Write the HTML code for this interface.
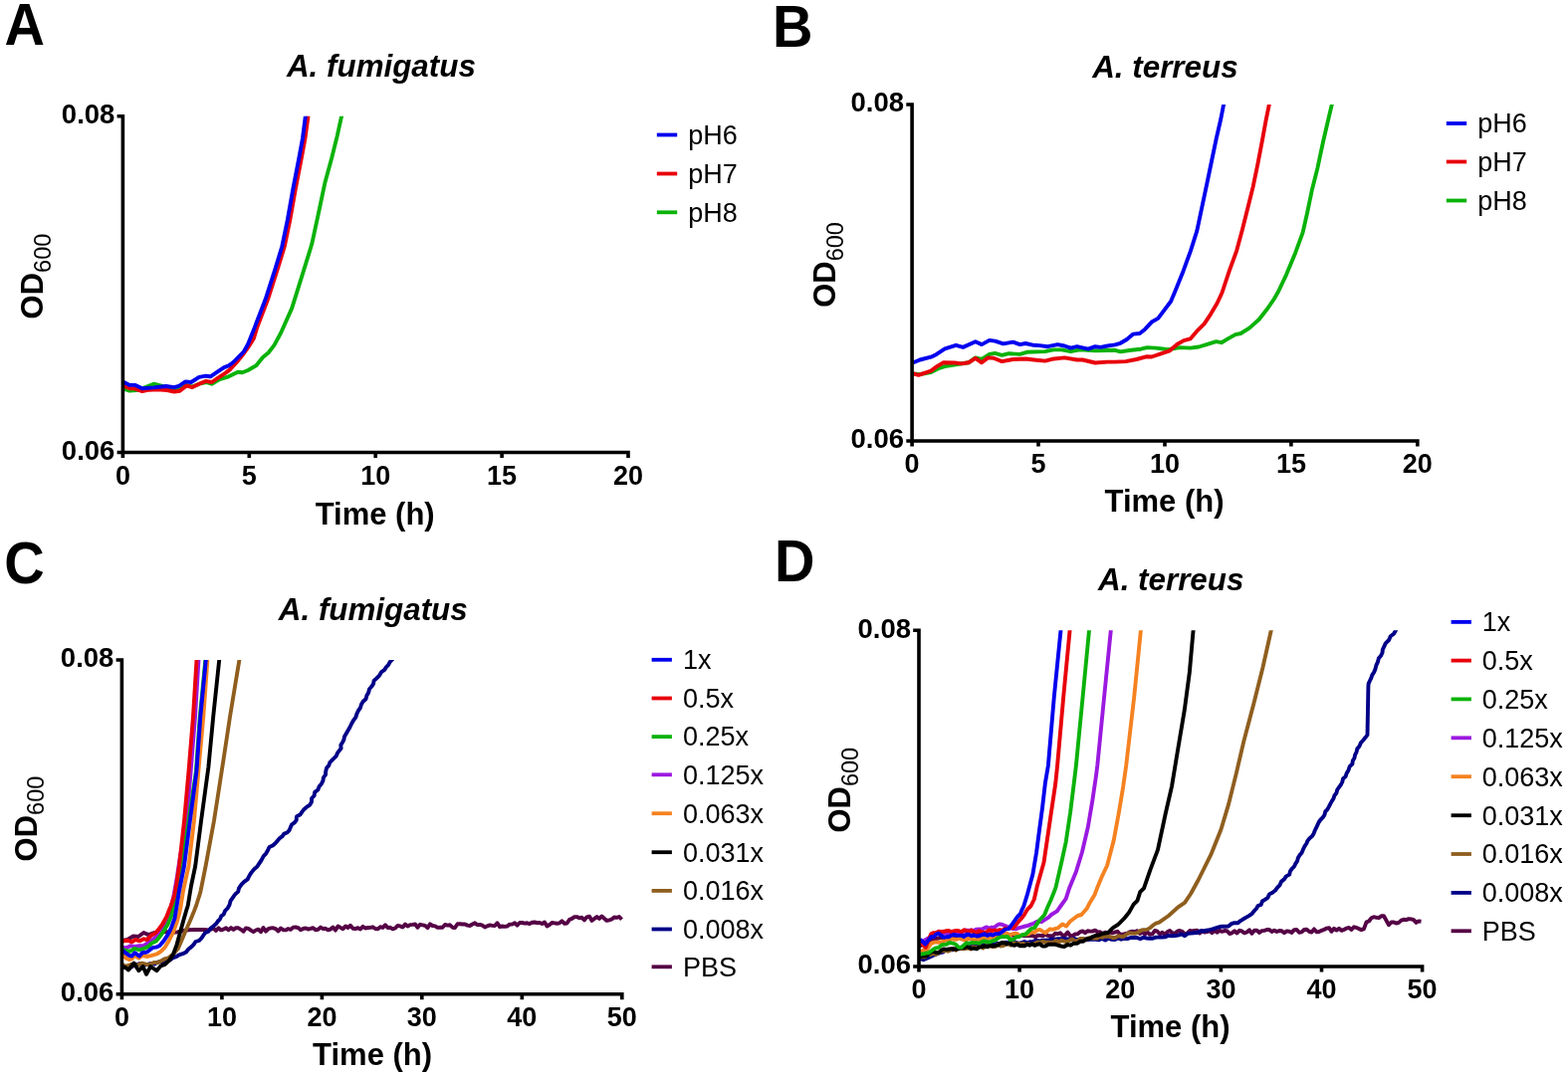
<!DOCTYPE html>
<html><head><meta charset="utf-8"><title>Growth curves</title>
<style>
html,body{margin:0;padding:0;background:#fff;}
svg{display:block;}
text{font-family:"Liberation Sans", Arial, Helvetica, sans-serif;fill:#000;}
.b{font-weight:bold;}
.bi{font-weight:bold;font-style:italic;}
.lbl{font-weight:bold;font-size:27.5px;}
.lblx{font-weight:bold;font-size:27px;}
.leg{font-size:27px;}
</style></head><body>
<svg width="1575" height="1082" viewBox="0 0 1575 1082">
<rect width="1575" height="1082" fill="#fff"/>

<text class="b" font-size="56" transform="translate(4.6,44.5) scale(1,1.058)">A</text>
<text class="bi" font-size="32" text-anchor="middle" transform="translate(382.9,76.6) scale(0.98,1)">A. fumigatus</text>
<clipPath id="clipA"><rect x="123.4" y="116.7" width="517.6" height="377.8"/></clipPath>
<g clip-path="url(#clipA)">
<polyline points="123.5,390.3 130.3,392.6 137.1,392.0 142.9,390.3 154.3,385.7 163.4,388.0 174.9,390.3 180.6,390.9 187.4,386.9 193.1,388.6 200.0,385.7 206.9,384.0 212.6,385.7 220.6,381.1 229.7,378.3 238.9,373.7 243.4,374.3 249.1,372.0 257.1,367.4 264.0,358.9 269.7,354.3 275.4,346.9 282.1,334.5 293.2,309.6 304.3,274.2 313.2,245.3 319.9,214.3 326.5,183.2 333.2,158.8 338.7,136.6 343.1,116.7 344.2,111.7" fill="none" stroke="#0ab20a" stroke-width="3.9" stroke-linejoin="round"/>
<polyline points="123.5,387.4 130.3,390.3 134.9,390.3 142.9,393.1 149.7,391.7 157.7,391.2 168.0,392.0 174.9,393.5 180.6,392.8 187.4,387.4 193.1,389.1 200.0,385.7 206.9,382.9 212.6,384.0 219.4,379.4 226.3,374.9 230.9,371.4 237.7,364.0 243.4,357.1 249.1,349.1 254.9,340.0 258.0,329.6 269.0,300.8 279.0,269.7 285.8,247.5 291.3,220.9 296.8,189.9 302.8,158.8 306.5,138.8 309.5,116.7 310.2,111.7" fill="none" stroke="#e8000b" stroke-width="3.9" stroke-linejoin="round"/>
<polyline points="123.5,383.4 130.3,386.9 136.0,386.9 142.9,390.3 154.3,389.4 166.9,388.0 174.9,389.1 179.4,388.0 186.3,383.4 192.0,384.0 200.0,378.9 206.9,377.7 211.4,378.3 218.3,373.7 225.1,369.1 229.7,367.4 234.3,364.0 241.1,357.1 244.6,353.7 249.1,345.7 255.5,329.6 266.6,300.8 276.6,269.7 283.3,247.5 288.8,220.9 294.3,189.9 300.3,158.8 304.0,138.8 306.8,116.7 307.4,111.7" fill="none" stroke="#0000ee" stroke-width="3.9" stroke-linejoin="round"/>
</g>
<path d="M123.4,116.7 V454.5 M119.4,116.7 H123.4 M119.4,454.5 H631.0 M123.4,454.5 v3.7 M250.3,454.5 v3.7 M377.2,454.5 v3.7 M504.1,454.5 v3.7 M631.0,454.5 v3.7" fill="none" stroke="#000" stroke-width="3.6" stroke-linecap="square"/>
<text class="lbl" x="115.4" y="124.0" text-anchor="end">0.08</text>
<text class="lbl" x="115.4" y="461.8" text-anchor="end">0.06</text>
<text class="lblx" x="123.4" y="486.7" text-anchor="middle">0</text>
<text class="lblx" x="250.3" y="486.7" text-anchor="middle">5</text>
<text class="lblx" x="377.2" y="486.7" text-anchor="middle">10</text>
<text class="lblx" x="504.1" y="486.7" text-anchor="middle">15</text>
<text class="lblx" x="631.0" y="486.7" text-anchor="middle">20</text>
<text class="b" x="376.7" y="526.6" font-size="31" text-anchor="middle">Time (h)</text>
<text class="b" font-size="31" transform="translate(43,320.4) rotate(-90)">OD<tspan font-weight="normal" font-size="23.5" dy="7.7">600</tspan></text>
<line x1="659.8" y1="135.5" x2="680.2" y2="135.5" stroke="#0000ee" stroke-width="3.8"/>
<text class="leg" x="691.3" y="144.8">pH6</text>
<line x1="659.8" y1="174.5" x2="680.2" y2="174.5" stroke="#e8000b" stroke-width="3.8"/>
<text class="leg" x="691.3" y="183.8">pH7</text>
<line x1="659.8" y1="213.3" x2="680.2" y2="213.3" stroke="#0ab20a" stroke-width="3.8"/>
<text class="leg" x="691.3" y="222.6">pH8</text>
<text class="b" font-size="56" transform="translate(776,46.7) scale(1,1.058)">B</text>
<text class="bi" font-size="32" text-anchor="middle" transform="translate(1170.4,78.3) scale(0.98,1)">A. terreus</text>
<clipPath id="clipB"><rect x="916.1" y="105" width="517.6999999999999" height="378"/></clipPath>
<g clip-path="url(#clipB)">
<polyline points="917.5,375.4 924.0,376.1 935.1,374.0 943.5,369.8 950.5,367.7 963.1,365.7 972.9,364.3 979.8,359.4 986.1,360.8 993.8,355.9 999.4,354.9 1006.4,356.9 1013.4,355.2 1024.5,355.9 1031.5,353.8 1049.7,353.1 1058.1,351.4 1066.4,351.4 1075.5,353.1 1084.6,351.4 1100.0,352.4 1112.5,352.0 1120.0,351.8 1125.4,353.4 1136.2,351.8 1145.9,350.7 1152.4,349.1 1161.0,349.6 1174.0,351.2 1184.8,349.1 1195.6,349.6 1204.2,348.5 1212.8,345.8 1221.5,343.1 1226.9,344.2 1233.3,340.4 1240.9,336.1 1246.3,335.0 1254.9,329.6 1264.6,321.0 1272.2,311.3 1279.7,300.5 1284.0,293.0 1292.0,276.1 1301.2,253.9 1308.6,233.6 1313.2,213.3 1317.8,191.1 1323.4,168.9 1328.9,143.0 1333.6,122.7 1337.8,105.0 1339.0,100.0" fill="none" stroke="#0ab20a" stroke-width="3.9" stroke-linejoin="round"/>
<polyline points="917.5,375.4 922.6,376.8 935.1,372.6 940.7,368.4 947.7,364.3 958.9,364.5 965.9,365.4 972.9,364.3 979.8,359.8 986.1,364.3 992.4,359.4 998.0,359.8 1006.4,363.1 1017.6,361.0 1030.1,360.5 1038.5,361.5 1049.7,362.6 1056.7,360.8 1069.2,359.4 1081.8,361.5 1087.4,361.5 1100.0,364.5 1112.5,363.6 1120.0,363.6 1130.8,363.1 1141.6,361.0 1151.3,358.3 1156.7,358.5 1165.3,355.6 1175.0,352.3 1182.6,345.8 1189.1,342.1 1195.6,340.4 1202.0,332.9 1209.6,325.3 1216.1,315.6 1222.5,304.8 1227.5,294.0 1234.7,272.4 1242.1,252.1 1247.6,231.8 1253.2,209.6 1258.7,187.4 1263.3,165.2 1267.9,141.2 1271.6,120.9 1274.8,105.0 1275.8,100.0" fill="none" stroke="#e8000b" stroke-width="3.9" stroke-linejoin="round"/>
<polyline points="917.5,364.3 924.0,361.5 935.1,358.7 940.7,355.9 949.1,350.3 960.3,346.8 967.3,348.9 979.8,343.3 986.1,346.1 993.8,341.9 999.4,342.6 1007.8,345.4 1017.6,343.6 1024.5,346.1 1030.1,345.0 1038.5,346.8 1044.1,347.1 1052.5,348.2 1062.3,346.1 1069.2,347.5 1075.5,349.6 1081.8,348.2 1093.0,350.6 1100.0,348.2 1105.6,348.9 1112.5,347.5 1120.0,346.4 1125.4,344.8 1131.9,341.0 1138.3,335.6 1144.8,335.0 1150.2,330.7 1157.2,323.2 1163.2,319.9 1169.6,311.3 1176.1,302.7 1180.4,292.5 1188.5,272.4 1195.9,252.1 1202.3,231.8 1207.0,209.6 1212.5,183.7 1217.1,161.5 1221.7,139.4 1226.4,119.0 1229.1,105.0 1230.1,100.0" fill="none" stroke="#0000ee" stroke-width="3.9" stroke-linejoin="round"/>
</g>
<path d="M916.1,105 V443 M912.1,105 H916.1 M912.1,443 H1423.8 M916.1,443 v3.7 M1043.0,443 v3.7 M1170.0,443 v3.7 M1296.9,443 v3.7 M1423.8,443 v3.7" fill="none" stroke="#000" stroke-width="3.6" stroke-linecap="square"/>
<text class="lbl" x="908.1" y="112.3" text-anchor="end">0.08</text>
<text class="lbl" x="908.1" y="450.3" text-anchor="end">0.06</text>
<text class="lblx" x="916.1" y="475.2" text-anchor="middle">0</text>
<text class="lblx" x="1043.0" y="475.2" text-anchor="middle">5</text>
<text class="lblx" x="1170.0" y="475.2" text-anchor="middle">10</text>
<text class="lblx" x="1296.9" y="475.2" text-anchor="middle">15</text>
<text class="lblx" x="1423.8" y="475.2" text-anchor="middle">20</text>
<text class="b" x="1169.5" y="514.1" font-size="31" text-anchor="middle">Time (h)</text>
<text class="b" font-size="31" transform="translate(839,308.8) rotate(-90)">OD<tspan font-weight="normal" font-size="23.5" dy="7.7">600</tspan></text>
<line x1="1452.8" y1="124" x2="1473.2" y2="124" stroke="#0000ee" stroke-width="3.8"/>
<text class="leg" x="1484.2" y="133.3">pH6</text>
<line x1="1452.8" y1="162.5" x2="1473.2" y2="162.5" stroke="#e8000b" stroke-width="3.8"/>
<text class="leg" x="1484.2" y="171.8">pH7</text>
<line x1="1452.8" y1="201.5" x2="1473.2" y2="201.5" stroke="#0ab20a" stroke-width="3.8"/>
<text class="leg" x="1484.2" y="210.8">pH8</text>
<text class="b" font-size="56" transform="translate(4.3,585.5) scale(1,1.058)">C</text>
<text class="bi" font-size="32" text-anchor="middle" transform="translate(374.75,622.7) scale(0.98,1)">A. fumigatus</text>
<clipPath id="clipC"><rect x="122.4" y="663" width="512.4" height="375.79999999999995"/></clipPath>
<g clip-path="url(#clipC)">
<polyline points="123.0,945.0 128.0,944.0 133.9,940.5 139.0,941.0 144.3,937.0 149.1,939.1 155.0,937.0 160.0,938.0 166.0,936.0 172.0,937.0 178.3,936.4 184.0,935.0 189.3,934.3 196.3,933.9 205.3,934.0 209.5,934.5 214.5,932.7 217.0,935.0 219.5,932.3 222.0,934.4 224.5,933.6 227.0,932.2 229.5,934.3 232.0,932.1 234.5,933.9 237.0,932.2 239.5,932.3 242.0,933.8 244.5,935.7 247.0,932.4 249.5,932.9 252.0,934.7 254.5,936.2 257.0,934.5 259.5,933.6 262.0,936.3 264.5,932.0 267.0,935.7 269.5,933.1 272.0,932.4 274.5,932.3 277.0,933.1 279.5,935.5 282.0,932.5 284.5,934.2 287.0,934.4 289.5,933.1 292.0,933.9 294.5,931.6 297.0,931.5 299.5,932.1 302.0,934.2 304.5,933.0 307.0,932.4 309.5,933.6 312.0,932.9 314.5,932.1 317.0,934.3 319.5,933.8 322.0,931.6 324.5,933.1 327.0,932.8 329.5,934.3 332.0,933.6 334.5,931.5 337.0,934.6 339.5,930.5 342.0,931.9 344.5,933.3 347.0,930.5 349.5,932.0 352.0,929.8 354.5,932.7 357.0,933.1 359.5,932.1 362.0,933.5 364.5,930.8 367.0,932.5 369.5,932.0 372.0,931.9 374.5,931.3 377.0,933.0 379.5,933.4 382.0,931.2 384.5,932.0 387.0,929.2 389.5,932.1 392.0,931.8 394.5,933.3 397.0,932.5 399.5,929.9 402.0,930.4 404.5,931.6 407.0,928.6 409.5,930.5 412.0,929.1 414.5,928.9 417.0,928.5 419.5,931.7 422.0,928.8 424.5,929.3 427.0,929.9 429.5,932.1 432.0,928.4 434.5,930.0 437.0,930.4 439.5,931.9 442.0,931.6 444.5,931.8 447.0,929.0 449.5,929.6 452.0,929.3 454.5,931.7 457.0,932.0 459.5,928.2 462.0,928.3 464.5,928.5 467.0,928.5 469.5,929.6 472.0,930.0 474.5,928.5 477.0,927.3 479.5,929.1 482.0,928.9 484.5,929.7 487.0,931.5 489.5,930.3 492.0,929.4 494.5,929.9 497.0,930.1 499.5,927.2 502.0,931.1 504.5,930.5 507.0,930.9 509.5,930.5 512.0,928.6 514.5,928.6 517.0,927.2 519.5,929.6 522.0,927.0 524.5,927.0 527.0,927.6 529.5,927.3 532.0,928.1 534.5,926.8 537.0,926.5 539.5,927.2 542.0,926.9 544.5,928.1 547.0,926.5 549.5,930.4 552.0,929.1 554.5,927.0 557.0,927.4 559.5,927.8 562.0,927.3 564.5,925.4 567.0,927.9 569.5,927.5 572.0,923.8 574.5,922.9 577.0,921.1 579.5,921.1 582.0,922.2 584.5,921.8 587.0,924.4 589.5,921.3 592.0,920.6 594.5,924.9 597.0,922.9 599.5,921.1 602.0,922.9 604.5,920.5 607.0,922.8 609.5,924.9 612.0,924.3 614.5,923.5 617.0,921.5 619.5,921.9 622.0,921.0 624.5,923.8" fill="none" stroke="#550045" stroke-width="3.9" stroke-linejoin="round"/>
<polyline points="123.0,972.0 126.5,971.8 130.0,972.6 134.9,969.8 140.2,968.2 143.5,969.2 147.2,969.2 150.8,968.1 155.1,968.6 157.9,966.8 160.9,966.0 164.2,966.9 167.2,965.4 170.9,964.3 174.1,962.0 177.1,961.2 179.8,959.4 183.5,958.2 187.0,956.5 189.3,953.5 192.1,951.4 194.6,948.9 196.5,946.0 199.9,945.0 202.3,942.7 204.1,940.0 206.0,937.2 209.3,935.8 211.4,932.8 214.3,930.5 217.1,928.1 218.8,925.5 221.0,923.4 222.2,920.4 224.7,918.5 226.1,915.0 228.7,912.3 230.5,909.1 231.5,905.1 233.8,901.8 236.1,898.5 239.1,895.9 240.1,892.1 242.3,888.9 245.2,885.8 248.7,883.3 250.0,880.6 251.5,878.0 253.3,875.6 255.5,873.0 258.2,870.8 260.1,867.9 262.6,864.1 264.7,860.1 267.1,857.6 268.9,854.5 270.5,851.1 273.9,849.5 276.5,847.2 278.8,844.6 280.8,842.2 283.4,840.4 285.3,837.6 288.4,836.5 290.6,834.1 291.8,831.1 293.1,828.3 295.9,826.4 297.7,823.8 298.0,820.3 301.4,818.6 303.4,815.7 305.5,812.9 308.1,810.7 311.1,808.8 312.9,805.8 313.1,802.0 315.6,799.4 316.2,795.9 319.3,793.5 320.7,790.0 322.9,787.4 324.4,784.5 324.9,781.1 327.0,778.4 327.2,774.9 328.1,771.6 330.3,769.0 331.3,766.0 333.4,763.8 335.6,761.7 337.7,759.6 338.9,756.7 340.7,754.2 342.6,751.8 342.3,748.5 344.1,745.7 345.4,743.1 346.0,739.9 347.6,737.2 349.2,734.5 350.8,731.8 352.2,729.0 353.6,726.2 355.3,723.3 357.4,720.5 358.4,717.1 359.9,714.0 361.9,711.2 362.9,707.7 364.7,704.7 367.5,702.3 368.4,698.8 370.2,695.8 371.0,692.3 373.2,689.8 375.0,687.2 375.6,683.9 378.1,681.6 381.1,678.6 383.4,674.8 386.1,673.1 387.8,670.4 390.0,668.2 391.5,665.3 393.6,663.0 398.2,658.0" fill="none" stroke="#000088" stroke-width="3.9" stroke-linejoin="round"/>
<polyline points="123.0,969.0 125.7,970.6 128.3,970.3 132.5,968.6 135.2,969.5 138.0,969.6 142.9,967.6 147.7,969.0 151.2,968.6 154.7,966.9 158.1,967.2 161.6,965.5 165.1,963.5 168.5,962.7 174.1,958.5 178.9,953.0 182.4,944.7 186.6,935.0 191.4,923.9 194.9,915.5 197.0,910.0 201.3,896.4 206.6,870.0 214.9,825.0 218.8,800.0 225.4,757.2 231.0,720.0 240.4,663.0 241.2,658.0" fill="none" stroke="#8f5e1e" stroke-width="3.9" stroke-linejoin="round"/>
<polyline points="123.0,971.0 126.0,971.9 129.0,974.5 134.6,967.6 139.4,975.2 143.6,971.0 147.0,978.7 151.2,971.0 157.4,975.2 161.6,970.3 165.8,968.9 169.9,964.8 174.1,958.5 177.6,948.8 181.0,936.4 184.5,923.9 187.3,914.2 188.7,910.0 192.0,890.0 196.2,870.0 202.0,825.0 209.4,770.5 214.2,720.0 220.2,663.0 220.7,658.0" fill="none" stroke="#000000" stroke-width="3.9" stroke-linejoin="round"/>
<polyline points="123.0,959.2 126.9,962.7 129.7,964.1 132.5,963.4 135.3,959.9 139.4,962.7 142.9,959.9 147.7,961.0 152.6,959.9 157.4,958.5 161.6,955.8 165.8,951.6 169.9,944.7 174.1,936.4 177.6,926.6 180.3,916.9 181.7,910.0 184.0,895.0 189.5,870.0 194.9,825.0 199.3,775.0 204.3,720.0 208.4,663.0 208.8,658.0" fill="none" stroke="#f58220" stroke-width="3.9" stroke-linejoin="round"/>
<polyline points="123.0,951.6 126.9,952.3 131.1,950.2 135.3,950.9 140.1,950.2 144.3,950.2 149.1,946.8 153.3,944.0 156.1,941.9 160.0,937.5 164.0,932.0 168.0,924.0 171.0,915.0 174.5,900.0 178.0,880.0 181.0,860.0 187.0,830.0 191.6,775.0 196.0,720.0 199.5,663.0 199.8,658.0" fill="none" stroke="#9b19e0" stroke-width="3.9" stroke-linejoin="round"/>
<polyline points="123.0,953.7 126.7,955.3 130.4,955.8 135.3,953.0 140.1,954.4 144.3,953.0 149.1,950.9 152.6,947.4 156.8,945.4 160.9,940.5 165.1,934.3 168.5,928.7 172.0,920.4 174.8,910.0 177.3,895.0 182.5,870.0 189.5,825.0 196.9,775.0 200.8,720.0 206.3,663.0 206.8,658.0" fill="none" stroke="#0ab20a" stroke-width="3.9" stroke-linejoin="round"/>
<polyline points="123.0,945.8 125.7,945.0 128.3,944.7 132.5,946.4 136.0,944.0 140.1,945.4 144.3,943.3 147.7,944.0 151.9,939.8 156.1,937.4 158.8,934.3 163.0,928.7 167.2,921.1 169.9,914.2 171.7,910.0 175.1,900.0 177.5,887.0 180.0,870.0 185.0,825.0 189.5,775.0 194.0,720.0 197.5,663.0 197.8,658.0" fill="none" stroke="#e8000b" stroke-width="3.9" stroke-linejoin="round"/>
<polyline points="123.0,954.7 126.9,957.9 129.7,959.8 132.5,960.6 135.3,957.2 140.1,960.6 142.9,957.2 147.7,956.5 151.2,953.7 154.0,951.9 156.8,951.6 160.2,950.2 164.4,945.4 168.5,939.1 172.0,932.2 175.5,922.5 177.6,910.0 180.0,895.0 185.0,870.0 190.8,825.0 197.4,775.0 201.3,720.0 206.8,663.0 207.3,658.0" fill="none" stroke="#0000ee" stroke-width="3.9" stroke-linejoin="round"/>
</g>
<path d="M122.4,663 V998.8 M118.4,663 H122.4 M118.4,998.8 H624.8 M122.4,998.8 v3.7 M222.9,998.8 v3.7 M323.4,998.8 v3.7 M423.8,998.8 v3.7 M524.3,998.8 v3.7 M624.8,998.8 v3.7" fill="none" stroke="#000" stroke-width="3.6" stroke-linecap="square"/>
<text class="lbl" x="114.4" y="670.3" text-anchor="end">0.08</text>
<text class="lbl" x="114.4" y="1006.1" text-anchor="end">0.06</text>
<text class="lblx" x="122.4" y="1031.0" text-anchor="middle">0</text>
<text class="lblx" x="222.9" y="1031.0" text-anchor="middle">10</text>
<text class="lblx" x="323.4" y="1031.0" text-anchor="middle">20</text>
<text class="lblx" x="423.8" y="1031.0" text-anchor="middle">30</text>
<text class="lblx" x="524.3" y="1031.0" text-anchor="middle">40</text>
<text class="lblx" x="624.8" y="1031.0" text-anchor="middle">50</text>
<text class="b" x="374.1" y="1070.1" font-size="31" text-anchor="middle">Time (h)</text>
<text class="b" font-size="31" transform="translate(36.6,865.4) rotate(-90)">OD<tspan font-weight="normal" font-size="23.5" dy="7.7">600</tspan></text>
<line x1="654.6" y1="662.8" x2="674.9" y2="662.8" stroke="#0000ee" stroke-width="3.8"/>
<text class="leg" x="686" y="672.1">1x</text>
<line x1="654.6" y1="701.5" x2="674.9" y2="701.5" stroke="#e8000b" stroke-width="3.8"/>
<text class="leg" x="686" y="710.8">0.5x</text>
<line x1="654.6" y1="740.1" x2="674.9" y2="740.1" stroke="#0ab20a" stroke-width="3.8"/>
<text class="leg" x="686" y="749.4">0.25x</text>
<line x1="654.6" y1="778.3" x2="674.9" y2="778.3" stroke="#9b19e0" stroke-width="3.8"/>
<text class="leg" x="686" y="787.6">0.125x</text>
<line x1="654.6" y1="817.2" x2="674.9" y2="817.2" stroke="#f58220" stroke-width="3.8"/>
<text class="leg" x="686" y="826.5">0.063x</text>
<line x1="654.6" y1="856.2" x2="674.9" y2="856.2" stroke="#000000" stroke-width="3.8"/>
<text class="leg" x="686" y="865.5">0.031x</text>
<line x1="654.6" y1="894.9" x2="674.9" y2="894.9" stroke="#8f5e1e" stroke-width="3.8"/>
<text class="leg" x="686" y="904.2">0.016x</text>
<line x1="654.6" y1="933.5" x2="674.9" y2="933.5" stroke="#000088" stroke-width="3.8"/>
<text class="leg" x="686" y="942.8">0.008x</text>
<line x1="654.6" y1="971.3" x2="674.9" y2="971.3" stroke="#550045" stroke-width="3.8"/>
<text class="leg" x="686" y="980.6">PBS</text>
<text class="b" font-size="56" transform="translate(778,584.4) scale(1,1.058)">D</text>
<text class="bi" font-size="32" text-anchor="middle" transform="translate(1176.2,592.6) scale(0.98,1)">A. terreus</text>
<clipPath id="clipD"><rect x="923" y="633.2" width="515.5999999999999" height="377.79999999999995"/></clipPath>
<g clip-path="url(#clipD)">
<polyline points="923.6,950.4 930.0,948.0 936.0,944.0 945.0,942.0 955.0,941.0 965.0,940.0 975.0,939.5 985.0,939.0 995.0,939.5 1005.0,939.8 1015.0,939.5 1025.0,940.0 1037.5,939.8 1040.0,941.4 1042.5,939.6 1045.0,939.9 1047.5,940.3 1050.0,938.7 1052.5,939.9 1055.0,940.2 1057.5,940.6 1060.0,937.7 1062.5,938.3 1065.0,937.3 1067.5,940.0 1070.0,939.4 1072.5,936.6 1075.0,940.2 1077.5,939.9 1080.0,938.5 1082.5,938.2 1085.0,936.2 1087.5,935.4 1090.0,937.3 1092.5,935.3 1095.0,935.6 1097.5,935.6 1100.0,934.6 1102.5,936.4 1105.0,936.3 1107.5,937.9 1110.0,936.7 1112.5,937.2 1115.0,936.6 1117.5,937.3 1120.0,936.5 1122.5,935.8 1125.0,938.7 1127.5,938.8 1130.0,938.2 1132.5,937.7 1135.0,936.1 1137.5,935.8 1140.0,936.1 1142.5,935.2 1145.0,938.0 1147.5,936.6 1150.0,938.4 1152.5,936.5 1155.0,938.8 1157.5,938.3 1160.0,934.9 1162.5,935.7 1165.0,938.5 1167.5,936.7 1170.0,938.7 1172.5,936.3 1175.0,935.0 1177.5,937.2 1180.0,937.8 1182.5,935.7 1185.0,935.0 1187.5,935.9 1190.0,938.4 1192.5,937.6 1195.0,935.0 1197.5,935.5 1200.0,934.9 1202.5,934.7 1205.0,937.6 1207.5,935.1 1210.0,936.6 1212.5,936.1 1215.0,935.1 1217.5,937.2 1220.0,934.8 1222.5,936.8 1225.0,934.7 1227.5,935.9 1230.0,935.0 1232.5,935.2 1235.0,938.0 1237.5,937.3 1240.0,935.3 1242.5,937.5 1245.0,934.8 1247.5,935.5 1250.0,937.3 1252.5,936.5 1255.0,934.3 1257.5,937.8 1260.0,934.7 1262.5,934.8 1265.0,936.9 1267.5,935.1 1270.0,934.9 1272.5,934.0 1275.0,934.0 1277.5,936.0 1280.0,934.6 1282.5,936.0 1285.0,935.0 1287.5,935.3 1290.0,937.3 1292.5,935.4 1295.0,935.8 1297.5,936.9 1300.0,934.1 1302.5,933.9 1305.0,936.8 1307.5,936.4 1310.0,934.0 1312.5,933.7 1315.0,935.8 1317.5,936.5 1320.0,933.4 1322.5,936.3 1325.0,936.0 1327.5,934.8 1330.0,933.9 1332.5,932.6 1335.0,932.2 1337.5,935.8 1340.0,932.8 1342.5,934.6 1345.0,932.7 1347.5,934.9 1350.0,933.9 1352.5,932.6 1355.0,932.0 1357.5,934.0 1360.0,931.3 1362.5,931.9 1365.0,933.1 1367.5,934.1 1370.0,933.1 1372.5,926.3 1375.0,925.5 1377.5,922.3 1380.0,921.2 1382.5,921.8 1385.0,922.1 1387.5,920.2 1390.0,920.3 1392.5,924.8 1395.0,929.3 1397.5,926.5 1400.0,926.4 1402.5,927.6 1405.0,926.9 1407.5,924.6 1410.0,923.8 1412.5,924.1 1415.0,923.1 1417.5,923.4 1420.0,924.1 1422.5,926.9 1425.0,925.4 1427.5,925.7" fill="none" stroke="#550045" stroke-width="3.9" stroke-linejoin="round"/>
<polyline points="923.6,962.8 927.5,964.3 932.9,962.0 936.6,960.3 940.4,958.7 943.5,957.4 946.9,956.7 949.8,954.2 953.3,954.3 956.8,954.4 960.1,953.3 963.1,953.3 965.9,951.5 969.0,951.7 971.9,950.9 975.0,951.1 978.0,950.7 980.9,949.3 983.9,949.3 986.9,949.0 990.1,949.7 993.0,949.3 996.0,948.0 999.0,948.9 1002.0,947.6 1005.0,948.2 1008.0,947.1 1010.9,946.7 1014.0,948.1 1017.0,946.7 1020.0,946.5 1023.1,947.7 1026.0,947.3 1029.0,946.0 1032.1,947.0 1035.0,946.1 1038.0,945.9 1040.9,944.6 1044.1,945.5 1047.0,944.6 1050.1,944.6 1053.2,944.5 1056.4,943.4 1059.5,943.6 1062.7,943.2 1065.9,943.2 1069.1,943.0 1072.2,943.4 1075.4,944.0 1078.6,942.9 1081.8,944.1 1084.9,943.5 1088.1,943.5 1091.3,944.4 1094.4,943.8 1097.6,943.5 1100.8,943.8 1103.9,944.2 1107.1,943.0 1110.3,944.6 1113.4,942.7 1116.6,943.9 1119.8,944.0 1123.0,942.4 1126.2,943.7 1129.3,942.9 1132.5,943.1 1135.7,942.0 1138.8,941.9 1142.0,942.0 1145.3,943.2 1148.4,941.7 1151.6,942.5 1154.8,942.7 1158.0,942.7 1161.1,941.6 1164.3,941.6 1167.5,941.5 1170.7,941.4 1173.7,939.8 1177.0,940.4 1180.2,940.0 1183.4,939.6 1186.7,938.4 1190.0,940.2 1192.9,937.9 1196.1,937.6 1199.3,937.3 1202.6,937.1 1205.4,935.3 1208.8,935.5 1211.8,934.7 1215.0,934.2 1218.0,933.4 1221.1,932.3 1224.2,931.3 1227.3,930.6 1230.7,930.8 1234.0,930.5 1236.7,928.2 1239.8,927.2 1243.4,927.3 1246.0,925.1 1248.9,923.3 1251.8,921.6 1254.8,919.8 1257.7,917.8 1259.9,915.0 1262.0,912.7 1263.6,910.0 1266.8,908.8 1267.8,905.5 1270.5,903.8 1273.4,901.8 1275.0,898.4 1278.2,896.7 1281.0,894.5 1283.1,891.6 1285.6,889.1 1287.1,885.6 1289.9,883.4 1291.9,880.4 1295.2,878.6 1295.9,875.4 1297.6,872.9 1299.9,870.7 1301.2,867.9 1303.0,865.2 1303.9,861.8 1305.6,859.0 1307.7,856.4 1309.0,853.3 1310.4,850.3 1312.3,847.5 1313.5,844.6 1315.4,842.2 1318.0,840.1 1319.6,837.4 1320.7,834.5 1322.1,831.7 1323.4,828.9 1324.7,826.0 1326.5,823.5 1328.8,821.2 1330.5,818.6 1331.2,815.4 1333.4,813.1 1334.9,810.4 1336.3,807.6 1337.8,804.9 1339.5,802.2 1340.4,799.2 1342.4,796.7 1343.2,793.5 1345.0,790.9 1346.9,788.3 1348.3,785.5 1349.1,782.3 1351.6,780.1 1352.6,777.0 1354.5,773.8 1355.6,770.2 1358.4,767.5 1358.8,764.3 1360.5,761.5 1361.1,758.3 1362.6,755.4 1363.3,752.3 1365.4,749.7 1366.8,746.4 1369.2,743.8 1371.4,741.1 1373.5,738.3 1374.4,690.0 1374.6,686.9 1375.9,684.0 1377.3,681.2 1378.3,678.1 1380.1,675.4 1381.4,672.4 1382.3,668.6 1383.9,665.1 1384.9,661.3 1387.1,658.7 1388.5,655.7 1388.9,652.3 1390.4,649.4 1391.7,646.3 1395.1,643.0 1396.7,639.2 1400.0,636.7 1402.0,633.2 1404.9,628.2" fill="none" stroke="#000088" stroke-width="3.9" stroke-linejoin="round"/>
<polyline points="923.6,962.0 926.5,961.1 929.3,961.5 932.1,958.5 935.0,959.0 937.5,957.8 940.0,958.9 942.5,957.4 945.0,955.4 947.5,955.3 950.0,955.0 952.5,955.7 955.0,954.2 957.5,952.8 960.0,954.7 962.5,952.4 965.0,953.0 967.5,953.2 970.0,953.0 972.5,952.4 975.0,953.5 977.5,951.3 980.0,952.0 982.5,952.0 985.0,950.5 987.5,952.5 990.0,950.1 992.5,950.8 995.0,950.5 997.5,951.1 1000.0,951.0 1002.5,948.7 1005.0,950.5 1007.5,950.1 1010.0,949.0 1012.5,948.4 1015.0,949.5 1017.5,948.0 1020.0,947.8 1022.5,947.7 1025.0,948.5 1027.5,947.8 1030.0,949.0 1032.5,947.9 1035.0,949.1 1037.5,948.7 1040.0,947.5 1042.5,946.5 1045.0,946.9 1047.5,945.8 1050.0,946.7 1052.7,946.8 1055.4,946.7 1058.1,946.5 1060.9,945.1 1063.6,946.3 1066.3,944.8 1069.0,945.7 1071.7,946.2 1074.5,944.8 1077.2,943.5 1079.9,945.3 1082.6,944.9 1085.4,942.9 1088.1,942.9 1090.8,943.9 1093.5,942.1 1096.2,942.6 1099.0,942.5 1101.7,942.9 1104.4,940.9 1107.1,941.9 1109.8,940.6 1112.6,940.7 1115.3,941.2 1118.0,942.2 1120.7,941.8 1123.5,940.1 1126.2,941.0 1128.9,940.8 1131.6,938.5 1134.3,937.3 1137.1,937.6 1139.8,937.9 1142.5,937.1 1145.2,935.2 1148.4,934.1 1151.6,934.1 1154.8,932.4 1158.0,929.7 1161.1,927.7 1164.3,926.7 1173.8,920.0 1183.3,911.4 1190.0,906.9 1196.0,898.0 1203.7,884.0 1216.3,858.7 1226.5,833.3 1234.1,807.9 1241.7,777.4 1249.4,744.4 1259.5,706.3 1268.4,670.7 1276.8,633.2 1277.9,628.2" fill="none" stroke="#8f5e1e" stroke-width="3.9" stroke-linejoin="round"/>
<polyline points="922.5,961.6 925.1,961.0 927.6,960.2 930.2,960.6 935.2,956.5 937.8,955.9 940.3,957.0 942.8,956.9 945.4,954.8 947.9,953.4 950.5,953.9 953.0,953.5 955.5,953.1 958.1,953.4 960.6,953.7 963.2,952.9 965.7,952.4 968.2,952.4 970.8,950.9 973.3,951.9 975.9,953.0 978.5,952.6 981.0,953.4 983.5,951.5 986.0,951.4 988.8,950.2 991.6,951.4 994.4,949.6 997.2,950.6 1000.0,949.9 1003.0,949.3 1005.9,947.0 1008.9,947.3 1011.4,948.4 1014.0,946.9 1016.5,949.4 1019.1,949.7 1021.6,948.5 1024.2,950.2 1026.7,950.0 1029.2,950.3 1031.8,948.5 1034.3,949.7 1036.8,948.0 1039.3,949.8 1041.9,948.9 1044.4,948.2 1047.2,950.6 1050.0,950.5 1053.2,948.7 1056.3,948.8 1059.5,948.6 1062.7,949.7 1065.8,950.5 1069.0,951.0 1072.2,949.0 1075.4,949.7 1078.6,947.6 1081.8,947.9 1084.9,945.8 1088.1,945.7 1091.3,943.2 1094.4,943.0 1097.6,941.0 1100.8,939.8 1103.9,939.5 1107.1,938.1 1110.0,937.6 1112.9,937.1 1117.6,932.4 1123.3,928.6 1129.0,922.9 1133.8,917.1 1138.6,908.6 1142.4,904.8 1145.2,896.2 1149.0,892.4 1155.4,873.9 1163.0,853.6 1170.6,818.0 1177.0,790.1 1183.3,752.0 1189.7,713.9 1194.8,675.8 1198.6,633.2 1199.0,628.2" fill="none" stroke="#000000" stroke-width="3.9" stroke-linejoin="round"/>
<polyline points="922.5,955.5 925.1,955.9 927.6,954.3 930.2,955.5 935.2,947.9 937.8,946.9 940.3,946.4 942.9,946.8 945.4,946.6 948.0,945.6 950.5,944.3 953.0,945.2 955.5,943.0 958.1,943.7 960.6,943.8 963.1,942.7 965.7,943.3 968.2,944.2 970.8,944.3 973.3,942.9 975.9,943.3 978.5,944.3 981.0,943.8 983.7,943.6 986.4,942.5 989.1,943.2 991.9,943.5 994.6,941.1 997.3,942.9 1000.0,941.8 1003.0,941.2 1005.9,939.1 1008.9,938.4 1011.4,937.6 1014.0,939.8 1016.5,938.4 1019.1,937.9 1021.6,938.0 1024.2,940.1 1026.7,939.3 1029.2,938.8 1031.8,938.6 1034.3,937.6 1036.8,936.4 1039.3,936.7 1041.9,934.4 1044.4,934.0 1047.2,935.7 1050.0,937.1 1054.8,933.3 1057.3,933.9 1059.9,933.0 1062.4,932.4 1067.1,928.6 1071.0,930.5 1074.8,925.7 1082.4,920.0 1086.2,919.0 1091.9,912.4 1094.8,906.7 1099.5,899.0 1101.7,893.1 1107.1,880.0 1112.1,869.5 1118.7,844.3 1123.9,816.2 1128.3,789.6 1131.2,769.0 1139.2,700.1 1145.9,633.2 1146.4,628.2" fill="none" stroke="#f58220" stroke-width="3.9" stroke-linejoin="round"/>
<polyline points="923.6,948.2 930.0,944.0 937.8,939.3 940.8,937.7 943.9,938.9 947.0,937.0 950.0,937.5 952.9,937.2 955.8,937.6 958.6,937.8 961.5,936.7 964.4,936.7 967.2,936.2 969.9,934.4 972.7,935.0 975.5,934.3 978.2,935.0 981.0,933.6 983.5,933.4 986.1,933.6 988.6,932.4 991.1,931.4 993.7,932.8 996.2,931.6 998.7,931.7 1001.2,929.8 1003.7,928.4 1006.2,928.7 1009.1,929.9 1012.0,931.0 1014.9,932.0 1017.8,933.1 1020.8,933.2 1023.7,932.2 1026.7,931.3 1029.7,930.5 1032.6,929.8 1035.6,928.7 1038.2,927.7 1040.9,926.2 1043.5,925.5 1046.2,926.0 1053.3,921.6 1055.9,919.0 1061.8,915.3 1065.2,910.5 1070.7,902.8 1074.3,891.7 1081.0,875.4 1086.9,856.2 1092.8,831.0 1097.3,804.4 1101.0,779.2 1102.3,769.0 1109.1,700.1 1115.8,633.2 1116.3,628.2" fill="none" stroke="#9b19e0" stroke-width="3.9" stroke-linejoin="round"/>
<polyline points="922.5,959.5 925.1,958.6 927.6,958.3 930.2,957.5 932.7,957.4 935.2,955.5 937.8,953.5 940.3,952.4 942.9,951.9 945.4,949.7 948.0,948.9 950.5,948.9 953.0,947.3 955.6,947.3 958.1,947.9 960.6,949.3 963.2,951.8 965.7,951.9 970.8,947.3 973.3,947.8 975.9,947.0 978.5,947.1 981.0,947.3 983.5,947.5 986.0,946.3 988.6,945.4 991.1,946.3 994.1,946.5 997.0,945.3 1000.0,944.3 1003.0,942.2 1005.9,941.0 1008.9,941.1 1011.9,940.9 1014.8,944.1 1017.8,943.8 1020.8,941.3 1023.7,941.1 1026.7,939.3 1029.8,938.8 1032.9,935.8 1036.0,932.8 1039.1,932.2 1044.4,924.2 1049.2,919.0 1052.0,912.0 1055.7,903.8 1058.8,896.1 1060.5,891.4 1066.2,866.5 1070.7,845.8 1075.1,816.2 1078.8,786.6 1080.9,769.0 1087.6,700.1 1094.0,633.2 1094.5,628.2" fill="none" stroke="#0ab20a" stroke-width="3.9" stroke-linejoin="round"/>
<polyline points="924.1,946.3 929.8,951.8 935.2,938.2 937.8,937.1 940.3,937.2 942.9,935.6 945.4,936.2 948.0,935.8 950.5,935.1 953.0,934.9 955.6,936.2 958.1,935.5 960.7,934.9 963.2,935.2 965.7,936.2 968.3,934.2 970.8,935.2 973.3,935.7 975.9,934.6 978.4,936.5 980.9,936.5 983.5,935.3 986.0,936.2 988.5,936.9 991.1,936.3 993.7,934.3 996.2,935.2 998.9,934.6 1001.7,934.9 1004.4,934.0 1007.1,934.8 1009.7,932.5 1012.4,933.1 1015.1,932.0 1017.8,932.2 1022.2,926.9 1027.6,920.7 1029.2,918.3 1032.0,913.6 1035.6,910.0 1038.8,903.5 1041.8,890.2 1048.5,866.5 1052.2,841.4 1055.9,816.2 1060.3,786.6 1062.1,769.0 1068.2,700.1 1074.6,633.2 1075.1,628.2" fill="none" stroke="#e8000b" stroke-width="3.9" stroke-linejoin="round"/>
<polyline points="924.1,943.8 929.6,948.4 935.2,941.3 937.8,941.1 940.3,938.6 942.9,937.7 947.9,941.8 950.5,941.3 953.0,941.3 955.6,939.7 958.1,939.0 960.7,939.7 963.2,939.9 965.7,939.7 968.2,941.0 970.8,938.7 973.4,939.0 975.9,940.2 978.4,939.5 981.0,940.5 983.5,940.3 986.0,939.2 988.8,938.1 991.6,939.9 994.4,938.7 997.2,939.6 1000.0,938.2 1003.5,938.1 1007.1,935.8 1010.2,933.4 1013.3,933.1 1017.8,926.9 1022.2,920.7 1024.8,918.3 1026.7,913.6 1028.4,910.0 1032.2,897.6 1037.4,878.3 1041.1,856.2 1044.0,834.0 1047.0,811.8 1049.9,786.6 1052.9,769.0 1058.8,700.1 1065.5,633.2 1066.0,628.2" fill="none" stroke="#0000ee" stroke-width="3.9" stroke-linejoin="round"/>
</g>
<path d="M923,633.2 V971 M919,633.2 H923 M919,971 H1428.6 M923.0,971 v3.7 M1024.1,971 v3.7 M1125.2,971 v3.7 M1226.4,971 v3.7 M1327.5,971 v3.7 M1428.6,971 v3.7" fill="none" stroke="#000" stroke-width="3.6" stroke-linecap="square"/>
<text class="lbl" x="915" y="640.5" text-anchor="end">0.08</text>
<text class="lbl" x="915" y="978.3" text-anchor="end">0.06</text>
<text class="lblx" x="923.0" y="1003.2" text-anchor="middle">0</text>
<text class="lblx" x="1024.1" y="1003.2" text-anchor="middle">10</text>
<text class="lblx" x="1125.2" y="1003.2" text-anchor="middle">20</text>
<text class="lblx" x="1226.4" y="1003.2" text-anchor="middle">30</text>
<text class="lblx" x="1327.5" y="1003.2" text-anchor="middle">40</text>
<text class="lblx" x="1428.6" y="1003.2" text-anchor="middle">50</text>
<text class="b" x="1175.5" y="1042.2" font-size="31" text-anchor="middle">Time (h)</text>
<text class="b" font-size="31" transform="translate(853.9,836.6) rotate(-90)">OD<tspan font-weight="normal" font-size="23.5" dy="7.7">600</tspan></text>
<line x1="1457.6" y1="624.9" x2="1477.9" y2="624.9" stroke="#0000ee" stroke-width="3.8"/>
<text class="leg" x="1488.8" y="634.2">1x</text>
<line x1="1457.6" y1="663.6" x2="1477.9" y2="663.6" stroke="#e8000b" stroke-width="3.8"/>
<text class="leg" x="1488.8" y="672.9">0.5x</text>
<line x1="1457.6" y1="702.4" x2="1477.9" y2="702.4" stroke="#0ab20a" stroke-width="3.8"/>
<text class="leg" x="1488.8" y="711.7">0.25x</text>
<line x1="1457.6" y1="741.3" x2="1477.9" y2="741.3" stroke="#9b19e0" stroke-width="3.8"/>
<text class="leg" x="1488.8" y="750.6">0.125x</text>
<line x1="1457.6" y1="780.2" x2="1477.9" y2="780.2" stroke="#f58220" stroke-width="3.8"/>
<text class="leg" x="1488.8" y="789.5">0.063x</text>
<line x1="1457.6" y1="819.2" x2="1477.9" y2="819.2" stroke="#000000" stroke-width="3.8"/>
<text class="leg" x="1488.8" y="828.5">0.031x</text>
<line x1="1457.6" y1="858" x2="1477.9" y2="858" stroke="#8f5e1e" stroke-width="3.8"/>
<text class="leg" x="1488.8" y="867.3">0.016x</text>
<line x1="1457.6" y1="896.9" x2="1477.9" y2="896.9" stroke="#000088" stroke-width="3.8"/>
<text class="leg" x="1488.8" y="906.2">0.008x</text>
<line x1="1457.6" y1="935.3" x2="1477.9" y2="935.3" stroke="#550045" stroke-width="3.8"/>
<text class="leg" x="1488.8" y="944.6">PBS</text>
</svg>
</body></html>
